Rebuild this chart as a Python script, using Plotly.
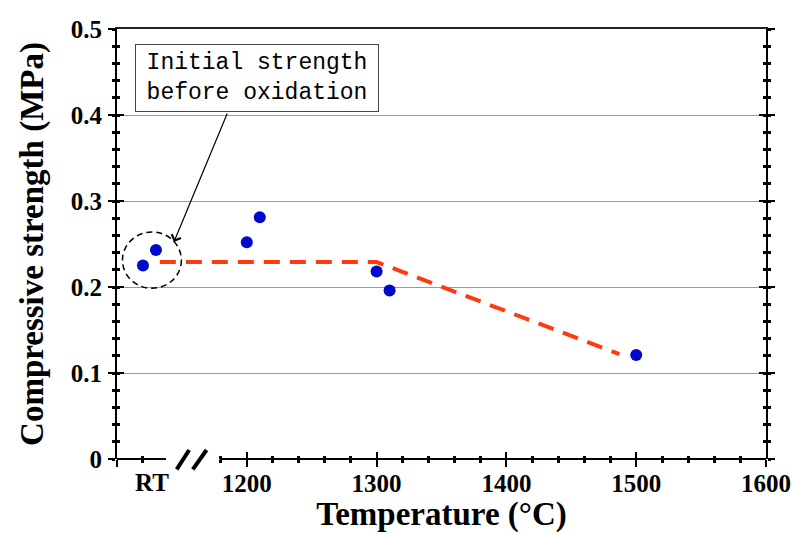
import plotly.graph_objects as go

# Measured compressive strength vs. oxidation temperature.
# Room-temperature (RT) specimens sit on the short left segment of the broken axis.
rt_positions = [1120, 1130]
rt_strength = [0.225, 0.243]
ox_temps = [1200, 1210, 1300, 1310, 1500]
ox_strength = [0.252, 0.281, 0.218, 0.196, 0.121]

# Trend line (piecewise linear)
trend_x = [1133, 1300, 1487]
trend_y = [0.229, 0.229, 0.122]

# Axis ticks
x_major = [1100, 1200, 1300, 1400, 1500, 1600]
x_major_text = ["", "1200", "1300", "1400", "1500", "1600"]
x_minor = [1120, 1180] + [v for v in range(1220, 1600, 20) if v % 100 != 0]
y_major = [0, 0.1, 0.2, 0.3, 0.4, 0.5]
y_major_text = ["0", "0.1", "0.2", "0.3", "0.4", "0.5"]
y_grid = [0.1, 0.2, 0.3, 0.4]

X_RANGE = [1100, 1600]
Y_RANGE = [0, 0.5]
SERIF = "Liberation Serif"
MONO = "Liberation Mono"

fig = go.Figure()

fig.add_trace(go.Scatter(
    x=trend_x, y=trend_y, mode="lines",
    line=dict(color="#FF3A10", width=4, dash="16px,10px"),
    showlegend=False, hoverinfo="skip",
))
fig.add_trace(go.Scatter(
    x=rt_positions + ox_temps, y=rt_strength + ox_strength, mode="markers",
    marker=dict(color="#0008CC", size=12),
    showlegend=False,
))

# empty traces so every overlay axis gets its subplot
for xa, ya in [("x", "y2"), ("x", "y3"), ("x2", "y"), ("x3", "y")]:
    fig.add_trace(go.Scatter(x=[None], y=[None], xaxis=xa, yaxis=ya,
                             showlegend=False, hoverinfo="skip"))

tickfont = dict(family=SERIF, size=25, color="black", weight="bold")
titlefont = dict(family=SERIF, size=33, color="black", weight="bold")

fig.update_layout(
    width=793, height=533,
    margin=dict(l=117, r=27, t=29, b=74),
    paper_bgcolor="white", plot_bgcolor="white",
    xaxis=dict(
        range=X_RANGE, showline=False, showgrid=False, zeroline=False,
        automargin=False,
        tickmode="array", tickvals=x_major, ticktext=x_major_text,
        ticks="outside", ticklen=7, tickwidth=2, tickcolor="black",
        minor=dict(tickmode="array", tickvals=x_minor, ticks="outside",
                   ticklen=3, tickwidth=2.5, tickcolor="black", showgrid=False),
        tickfont=tickfont, ticklabelstandoff=-5,
        title=dict(text="Temperature (°C)", font=titlefont, standoff=9),
    ),
    xaxis2=dict(
        range=X_RANGE, overlaying="x", side="top", anchor="y", automargin=False,
        showline=True, linecolor="#222", linewidth=2,
        ticks="", showticklabels=False, showgrid=False, zeroline=False,
    ),
    xaxis3=dict(
        range=X_RANGE, overlaying="x", side="bottom", anchor="y", automargin=False,
        showline=False, showgrid=False, zeroline=False, showticklabels=False,
        tickmode="array", tickvals=x_major,
        ticks="inside", ticklen=7, tickwidth=2, tickcolor="black",
        minor=dict(tickmode="array", tickvals=x_minor, ticks="inside",
                   ticklen=3, tickwidth=2.5, tickcolor="black", showgrid=False),
    ),
    yaxis=dict(
        range=Y_RANGE, showline=True, linecolor="black", linewidth=2,
        mirror="ticks", showgrid=False, zeroline=False, automargin=False,
        tickmode="array", tickvals=y_major, ticktext=y_major_text,
        ticks="outside", ticklen=7, tickwidth=2, tickcolor="black",
        minor=dict(dtick=0.02, ticks="outside", ticklen=3, tickwidth=2.5,
                   tickcolor="black", showgrid=False),
        tickfont=tickfont, ticklabelstandoff=1,
        title=dict(text="Compressive strength (MPa)", font=titlefont, standoff=17),
    ),
    yaxis2=dict(
        range=Y_RANGE, overlaying="y", anchor="x", automargin=False,
        showline=True, linecolor="black", linewidth=2, mirror="ticks",
        showgrid=False, zeroline=False, showticklabels=False,
        tickmode="array", tickvals=y_major,
        ticks="inside", ticklen=7, tickwidth=2, tickcolor="black",
        minor=dict(dtick=0.02, ticks="inside", ticklen=3, tickwidth=2.5,
                   tickcolor="black", showgrid=False),
    ),
    yaxis3=dict(
        range=Y_RANGE, overlaying="y", anchor="x", automargin=False,
        showline=False, zeroline=False, showticklabels=False, ticks="",
        tickmode="array", tickvals=y_grid,
        showgrid=True, gridcolor="#9a9a9a", gridwidth=1,
    ),
)

# broken bottom axis: short RT segment, then the temperature segment
for x0, x1 in [(1100, 1137.7), (1179, 1600)]:
    fig.add_shape(type="line", xref="x", yref="paper", x0=x0, x1=x1, y0=0, y1=0,
                  line=dict(color="black", width=2))
# break marks "//"
for x0, x1 in [(1146, 1155.6), (1158.4, 1169)]:
    fig.add_shape(type="line", xref="x", yref="paper", x0=x0, x1=x1,
                  y0=-0.024, y1=0.021, line=dict(color="black", width=4))

# dashed circle around the room-temperature points
fig.add_shape(type="circle", xref="x", yref="y",
              x0=1104.2, x1=1149.6, y0=0.1985, y1=0.2640,
              line=dict(color="black", width=1.5, dash="6px,4px"))

fig.add_annotation(
    x=1207.7, y=0.443, xref="x", yref="y", showarrow=False,
    text="Initial strength<br>before oxidation",
    font=dict(family=MONO, size=23, color="black"),
    width=234, height=58, borderpad=4,
    bgcolor="white", bordercolor="#444", borderwidth=1,
)
fig.add_annotation(
    x=1143.8, y=0.2523, ax=1185.4, ay=0.4035, xref="x", yref="y",
    axref="x", ayref="y", text="", showarrow=True,
    arrowhead=4, arrowsize=1.6, arrowwidth=1.2, arrowcolor="black",
)
fig.add_annotation(
    x=1126.9, y=0, xref="x", yref="paper", yanchor="top", yshift=-8,
    text="RT", showarrow=False, font=tickfont,
)

fig.write_html("out.html")
